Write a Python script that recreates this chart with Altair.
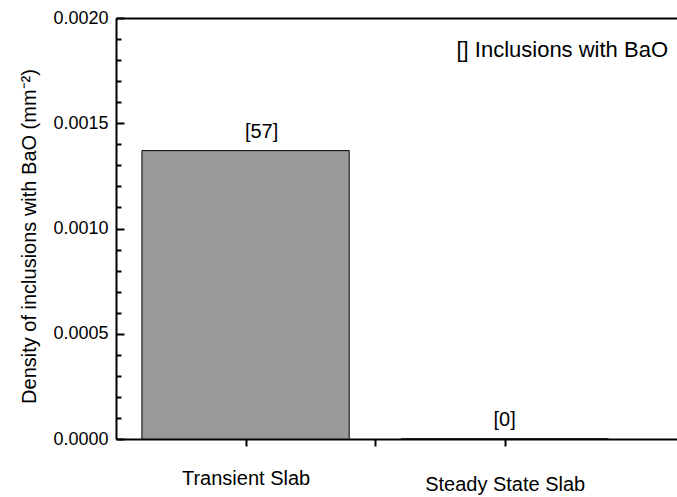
import altair as alt
import pandas as pd

# ---- data ----
categories = ["Transient Slab", "Steady State Slab"]
positions = [1, 2]
densities = [0.00137, 0.0]
count_labels = ["[57]", "[0]"]
note_text = "[] Inclusions with BaO"
y_title = "Density of inclusions with BaO (mm\u207b\u00b2)"
y_major_ticks = [0.0, 0.0005, 0.0010, 0.0015, 0.0020]
y_all_ticks = [round(i * 0.0001, 4) for i in range(21)]
x_ticks = [1, 1.5, 2]

df = pd.DataFrame({"pos": positions, "cat": categories,
                   "density": densities, "label": count_labels})
note_df = pd.DataFrame({"note": [note_text]})

FONT = "Liberation Sans"
W, H = 561, 421

xs = alt.Scale(domain=[0.5, 2.665], nice=False, zero=False)
ys = alt.Scale(domain=[0, 0.002], nice=False, zero=False)

label_expr = " : ".join(
    f"datum.value === {p} ? '{c}'" for p, c in zip(positions, categories)
) + " : ''"

x_bottom_axis = alt.Axis(
    orient="bottom", values=x_ticks, labelExpr=label_expr,
    tickSize=7, tickWidth=2, tickColor="black",
    domainColor="black", domainWidth=2,
    labelFont=FONT, labelFontSize=20, labelColor="black",
    labelPadding={"condition": {"test": "datum.value === 2", "value": 28}, "value": 22},
    labelOverlap=False, labelFlush=False, grid=False, title=None,
)
x_top_axis = alt.Axis(orient="top", ticks=False, labels=False,
                      domainColor="black", domainWidth=2, grid=False, title=None)

y_left_axis = alt.Axis(
    orient="left", values=y_major_ticks, format=".4f",
    ticks=False, tickSize=0, labelPadding=8,
    labelFont=FONT, labelFontSize=18, labelColor="black",
    domainColor="black", domainWidth=2, grid=False,
    title=y_title, titleFont=FONT, titleFontSize=20, titleFontWeight="normal",
    titleColor="black", titlePadding=13, titleY=218,
)
y_inner_axis = alt.Axis(
    orient="right", offset=-W, values=y_all_ticks, labels=False, domain=False,
    tickColor="black", tickWidth=2,
    tickSize={"condition": {"test": "round(datum.value * 10000) % 5 === 0", "value": 8}, "value": 5},
    grid=False, title=None,
)

bars = alt.Chart(df).transform_calculate(
    left="datum.pos - 0.4", right="datum.pos + 0.4", base="0"
).mark_bar(fill="#999999", stroke="black", strokeWidth=1).encode(
    x=alt.X("left:Q", scale=xs, axis=x_bottom_axis),
    x2="right:Q",
    y=alt.Y("density:Q", scale=ys, axis=y_left_axis),
    y2="base:Q",
)

text_first = alt.Chart(df).transform_filter("datum.pos === 1").mark_text(
    font=FONT, fontSize=20, color="black", baseline="bottom", dy=-9, dx=16
).encode(
    x=alt.X("pos:Q", scale=xs, axis=x_top_axis),
    y=alt.Y("density:Q", scale=ys, axis=y_inner_axis),
    text="label:N",
)

text_second = alt.Chart(df).transform_filter("datum.pos === 2").mark_text(
    font=FONT, fontSize=20, color="black", baseline="bottom", dy=-9
).encode(
    x=alt.X("pos:Q", scale=xs, axis=None),
    y=alt.Y("density:Q", scale=ys, axis=None),
    text="label:N",
)

note = alt.Chart(note_df).mark_text(
    font=FONT, fontSize=22, color="black", align="right", baseline="middle"
).encode(
    x=alt.value(552), y=alt.value(32), text="note:N"
)

chart = alt.layer(bars, text_first, text_second, note).resolve_axis(
    x="independent", y="independent"
).properties(
    width=W, height=H,
    autosize=alt.AutoSizeParams(type="none"),
    padding={"left": 116, "top": 18, "right": 0, "bottom": 58},
    background="white",
).configure_view(stroke=None)

chart.save("out.html", embed_options={"renderer": "svg", "actions": False})
